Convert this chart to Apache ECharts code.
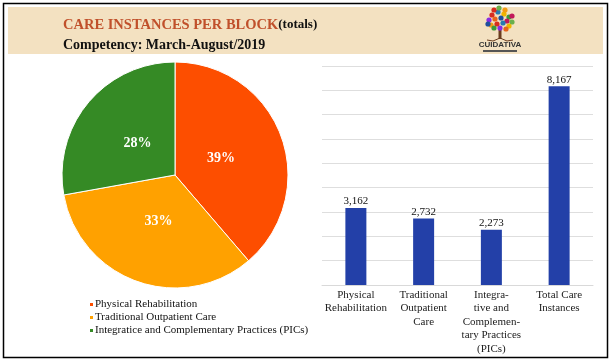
<!DOCTYPE html>
<html><head><meta charset="utf-8">
<script src="https://cdn.jsdelivr.net/npm/echarts@6/dist/echarts.min.js"></script>
<style>html,body{margin:0;padding:0;background:#fff}#c{width:612px;height:362px}</style>
</head><body><div id="c"></div>
<script>
const pieNames = ['Physical Rehabilitation', 'Traditional Outpatient Care', 'Integratice and Complementary Practices (PICs)'];
const pieValues = [3162, 2732, 2273];
const pieColors = ['#FD4E00', '#FFA100', '#358A25'];
const barCategories = ['Physical\nRehabilitation', 'Traditional\nOutpatient\nCare', 'Integra-\ntive and\nComplemen-\ntary Practices\n(PICs)', 'Total Care\nInstances'];
const barValues = [3162, 2732, 2273, 8167];
const titleMain = 'CARE INSTANCES PER BLOCK';
const titleSuffix = '(totals)';
const subtitle = 'Competency: March-August/2019';

const SERIF = '"Liberation Serif", "DejaVu Serif", serif';
const chart = echarts.init(document.getElementById('c'), null, {renderer: 'canvas'});

const pieData = pieNames.map((n, i) => ({name: n, value: pieValues[i], itemStyle: {color: pieColors[i]}}));

// simple decorative logo
const logoDots = [];
const dotColors = ['#d62d20', '#2a7ab0', '#f0b400', '#3a9a3a', '#8a2be2', '#e8641b', '#1f4e9c', '#c2185b', '#6ab04c', '#f39c12'];
const dotPos = [[-8,-7],[-2,-10],[4,-8],[9,-5],[-11,-2],[-5,-3],[1,-4],[7,-1],[12,0],[-9,3],[-3,2],[3,1],[9,4],[-6,6],[0,6],[6,7],[-12,2],[12,-6],[-1,-14],[5,-12],[-6,-12]];
dotPos.forEach((p, i) => {
  logoDots.push({type: 'circle', shape: {cx: 500 + p[0], cy: 22 + p[1], r: 2.6}, style: {fill: dotColors[i % dotColors.length]}, silent: true});
});

chart.setOption({
  animation: false,
  backgroundColor: '#fff',
  textStyle: {fontFamily: SERIF},
  graphic: [
    {type: 'rect', shape: {x: 3.5, y: 3.5, width: 604, height: 354}, style: {fill: 'none', stroke: '#000', lineWidth: 1.5}, z: 100, silent: true},
    {type: 'rect', shape: {x: 8, y: 7, width: 595, height: 47}, style: {fill: '#F3E1C1'}, z: -1, silent: true},
    {type: 'rect', shape: {x: 498.5, y: 27, width: 3, height: 12}, style: {fill: '#6b3d1e'}, silent: true},
    {type: 'polyline', shape: {points: [[500, 38], [493, 41], [487, 40]]}, style: {stroke: '#6b3d1e', lineWidth: 1}, silent: true},
    {type: 'polyline', shape: {points: [[500, 38], [507, 41], [513, 40]]}, style: {stroke: '#6b3d1e', lineWidth: 1}, silent: true},
    ...logoDots,
    {type: 'text', style: {x: 500, y: 41, text: 'CUIDATIVA', fill: '#333', font: 'bold 8px "Liberation Sans", sans-serif', align: 'center', verticalAlign: 'top'}, silent: true},
    {type: 'rect', shape: {x: 483, y: 50, width: 34, height: 2}, style: {fill: '#555'}, silent: true}
  ],
  title: {
    left: 58, top: 10,
    text: '{a|' + titleMain + '}{b|' + titleSuffix + '}\n{c|' + subtitle + '}',
    textStyle: {
      rich: {
        a: {fontFamily: SERIF, fontSize: 14.5, fontWeight: 'bold', color: '#C0502B', lineHeight: 20},
        b: {fontFamily: SERIF, fontSize: 13, fontWeight: 'bold', color: '#111', lineHeight: 20},
        c: {fontFamily: SERIF, fontSize: 14, fontWeight: 'bold', color: '#111', lineHeight: 20}
      }
    }
  },
  legend: {
    data: pieNames,
    orient: 'vertical',
    left: 83, top: 294,
    icon: 'rect', itemWidth: 5, itemHeight: 5, itemGap: 2,
    textStyle: {fontFamily: SERIF, fontSize: 11, color: '#111', padding: [0, 0, 0, -4]},
    selectedMode: false
  },
  grid: {left: 322, right: 19, top: 66, bottom: 77},
  xAxis: {
    type: 'category', data: barCategories,
    axisLine: {lineStyle: {color: '#d9d9d9'}},
    axisTick: {show: false},
    axisLabel: {fontFamily: SERIF, fontSize: 11, color: '#222', lineHeight: 13.5, margin: 3, interval: 0}
  },
  yAxis: {
    type: 'value', min: 0, max: 9000, interval: 1000,
    axisLabel: {show: false}, axisLine: {show: false}, axisTick: {show: false},
    splitLine: {lineStyle: {color: '#dedede', width: 1}}
  },
  series: [
    {
      type: 'pie', center: [175, 175], radius: [0, 113], startAngle: 90, clockwise: true,
      data: pieData, label: {show: false}, labelLine: {show: false},
      itemStyle: {borderColor: '#fff', borderWidth: 1}, silent: true
    },
    {
      type: 'pie', center: [175, 175], radius: [0, 92], startAngle: 90, clockwise: true,
      percentPrecision: 0,
      data: pieData.map(d => ({name: d.name, value: d.value, itemStyle: {color: 'rgba(0,0,0,0)'}})),
      label: {show: true, position: 'inside', formatter: '{d}%', fontFamily: SERIF, fontSize: 14, fontWeight: 'bold', color: '#fff'},
      labelLine: {show: false}, silent: true, legendHoverLink: false
    },
    {
      type: 'bar', data: barValues, barWidth: 21,
      itemStyle: {color: '#2340A8'},
      label: {show: true, position: 'top', distance: 1, fontFamily: SERIF, fontSize: 11, color: '#111',
        formatter: p => p.value.toLocaleString('en-US')}
    }
  ]
});
</script></body></html>
